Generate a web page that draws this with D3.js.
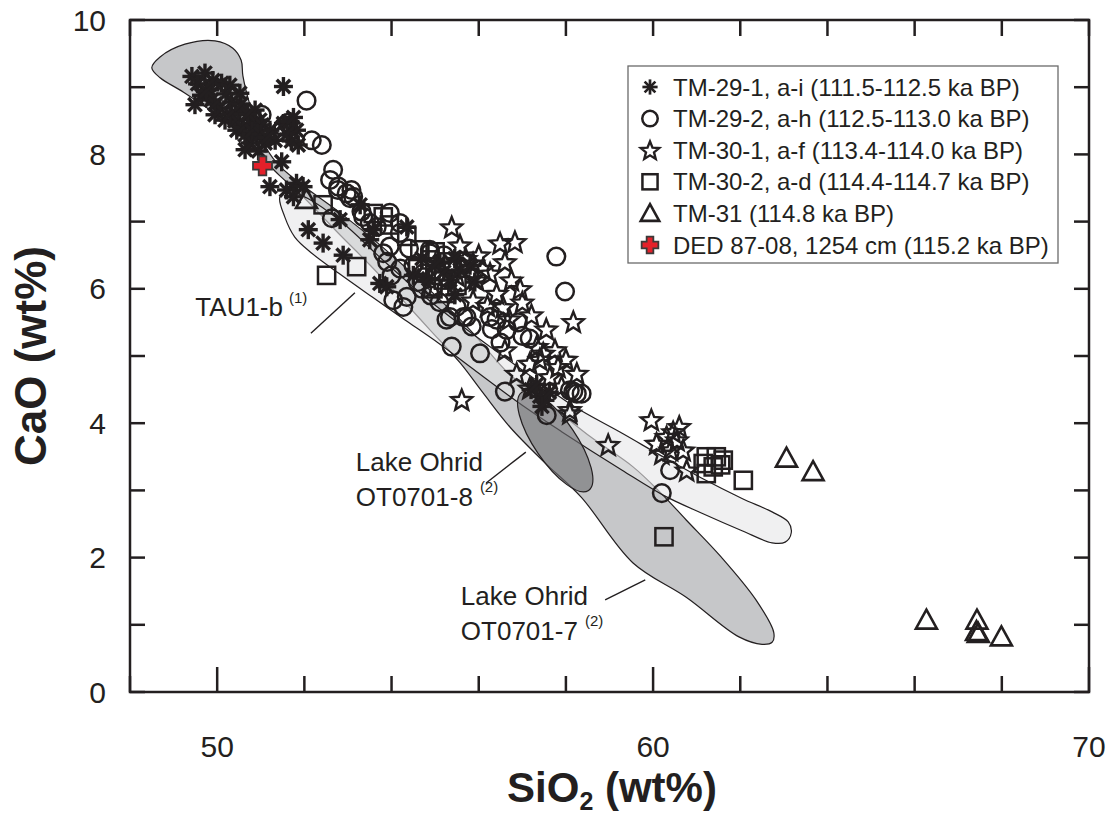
<!DOCTYPE html>
<html>
<head>
<meta charset="utf-8">
<script src="https://cdn.jsdelivr.net/npm/d3@7"></script>
<style>
  body { margin: 0; background: #fff; }
  svg { display: block; }
  text { font-family: "Liberation Sans", Arial, Helvetica, sans-serif; fill: #231f20; }
</style>
</head>
<body>
<svg id="chart" width="1113" height="820"></svg>
<script>
// ---- Sample data: [SiO2 wt%, CaO wt%] ----
const tm29_1 = [ // asterisks
  [49.42,9.16],[49.72,9.21],[49.64,8.88],[49.87,8.81],[50.10,9.06],[50.06,8.69],[50.33,8.78],
  [50.52,8.91],[50.52,8.64],[50.45,8.36],[50.75,8.46],[50.91,8.26],[51.10,8.17],[50.75,8.17],
  [51.52,9.01],[51.52,8.46],[51.67,8.49],[51.82,8.36],[51.86,8.14],[51.48,7.89],[51.21,7.52],
  [51.59,7.47],[51.82,7.57],[51.97,7.52],[51.75,7.37],[52.09,6.88],[52.43,6.68],[52.89,6.50],
  [53.73,6.08],[53.89,6.03],[53.28,7.25],[54.35,6.92],[53.58,6.88],[53.50,6.73],[52.82,7.03],
  [50.18,8.51],[50.64,8.07],[50.98,8.51],[51.21,8.36],[49.83,8.96],[49.49,8.74],[49.95,8.59],
  [50.29,9.03],[50.87,8.66],[51.03,8.44],[51.33,8.21],[50.64,8.29],
  [49.55,9.05],[49.75,8.95],[49.95,8.75],[50.20,8.90],[50.40,8.50],[50.60,8.40],[50.80,8.35],
  [51.00,8.30],[50.30,8.60],[50.55,8.75],[49.90,9.10],[50.70,8.60],[51.15,8.25],[50.95,8.05],
  [51.60,8.30],[51.75,8.55],[51.70,8.20],
  [55.57,6.28],[55.80,6.35],[55.34,6.13],[55.11,6.40],[55.91,6.10],[55.45,5.91],
  [54.70,6.45],[55.00,6.35],[54.85,6.15],[55.20,6.25],[54.50,6.20],[55.45,6.45],
  [57.20,4.50],[57.40,4.40],[57.52,4.34],[57.33,4.58],[57.62,4.46],[57.45,4.25]
];
const tm29_2 = [ // circles
  [51.02,8.59],[52.05,8.80],[51.52,8.41],[51.62,8.47],[52.17,8.21],[52.40,8.14],[52.66,7.77],
  [52.59,7.62],[52.77,7.47],[52.97,7.42],[53.12,7.37],[52.63,7.05],[53.35,7.07],[53.50,6.98],
  [53.96,7.13],[54.19,6.83],[52.78,7.52],[53.08,7.47],[53.05,7.35],[53.31,7.15],[53.66,6.92],
  [54.19,6.98],[53.81,6.53],[53.96,6.63],[54.04,5.83],[54.27,5.73],[54.35,5.88],[54.88,6.58],
  [54.73,6.23],[54.95,6.03],[55.49,5.73],[55.72,5.58],[55.26,5.54],[57.78,6.48],[57.98,5.96],
  [55.34,5.58],[55.65,5.58],[55.84,5.44],[56.26,5.58],[56.41,5.54],[56.64,5.39],[55.38,5.14],
  [56.03,5.04],[56.60,4.47],[57.17,5.26],[57.56,4.12],[58.09,4.49],[58.25,4.44],[58.36,4.44],
  [54.88,6.53],[60.39,3.30],[60.20,2.96],[58.17,4.47],
  [54.50,6.35],[54.60,6.10],[55.00,6.20],[55.20,6.50],[54.40,6.60],[55.40,6.30],[55.60,6.10],
  [54.90,5.90],[55.10,5.80],[54.20,6.30],[53.90,6.40],[54.00,6.20],[56.50,5.20],[56.90,5.50],
  [57.00,5.30],[56.30,5.40],[55.30,6.15],[54.70,6.00]
];
const tm30_1 = [ // stars
  [55.38,6.92],[56.49,6.68],[56.83,6.70],[55.57,6.65],[55.87,6.38],[56.26,6.23],[56.75,6.13],
  [56.41,5.93],[55.95,6.13],[55.87,5.83],[56.56,5.73],[57.21,5.61],[58.17,5.51],[56.60,5.09],
  [57.33,5.14],[57.17,4.89],[57.48,5.04],[57.75,5.09],[56.87,4.74],[57.82,4.84],[58.25,4.74],
  [57.63,4.69],[58.09,4.20],[55.61,4.35],[57.17,4.52],[58.09,4.15],[58.97,3.68],[59.96,4.05],
  [60.08,3.70],[60.46,3.87],[60.69,3.60],[60.77,3.30],[60.31,3.80],
  [55.70,6.45],[55.50,6.20],[56.00,6.50],[56.10,6.30],[56.60,6.40],[56.95,6.00],[57.00,5.80],
  [56.20,5.75],[57.40,4.95],[57.90,4.55],[58.00,4.95],[60.55,3.75],[60.40,3.60],[60.60,3.95],
  [60.20,3.55],[56.70,5.55],[57.55,5.40]
];
const tm30_2 = [ // squares
  [52.51,6.20],[53.20,6.33],[52.43,7.25],[53.58,7.12],[53.81,7.07],[54.65,6.58],[55.26,5.93],
  [54.35,6.78],[54.88,6.43],[55.19,6.13],[61.22,3.50],[61.45,3.50],[61.61,3.45],[61.22,3.25],
  [61.15,3.40],[61.38,3.35],[61.55,3.38],[62.07,3.15],[60.25,2.31],[55.00,6.55],[54.95,6.00],
  [53.95,6.95],[54.60,6.30],[55.30,6.40],[55.50,6.05]
];
const tm31 = [ // triangles
  [63.06,3.48],[63.67,3.28],[66.27,1.07],[67.43,1.07],[67.42,0.90],[67.46,0.87],[67.99,0.82],
  [52.05,7.33]
];
const ded87 = [[51.04,7.83]]; // red cross

// Reference fields (outline vertices in SiO2 / CaO)
const fieldOT07 = [
  [48.50,9.29],[48.69,9.45],[49.26,9.64],[49.95,9.69],[50.36,9.58],[50.55,9.40],[50.59,9.17],
  [50.75,8.74],[51.03,8.21],[51.37,7.87],[51.90,7.57],[52.82,7.13],[53.74,6.65],[54.88,5.98],
  [55.80,5.39],[56.72,4.72],[57.70,4.24],[58.58,3.79],[59.54,3.35],[60.18,2.96],[60.76,2.56],
  [61.56,2.01],[62.36,1.37],[62.77,0.88],[62.73,0.74],[62.50,0.71],[61.97,0.82],[60.76,1.41],
  [59.54,1.92],[58.35,2.90],[57.52,3.41],[56.72,3.94],[56.10,4.45],[55.57,4.90],[54.88,5.39],
  [54.19,5.88],[53.51,6.35],[52.82,6.80],[51.97,7.37],[51.44,7.68],[50.98,7.98],[50.23,8.47],
  [49.77,8.69],[49.22,8.93],[48.69,9.14]
];
const fieldTAU1b = [
  [51.44,7.37],[51.55,7.07],[51.78,6.77],[52.17,6.53],[52.79,6.23],[53.55,5.88],[54.30,5.54],
  [55.08,5.19],[55.84,4.82],[56.99,4.27],[57.91,3.87],[59.29,3.30],[60.23,2.93],[61.12,2.66],
  [62.04,2.40],[62.73,2.22],[63.03,2.23],[63.17,2.37],[63.10,2.53],[62.73,2.68],[62.04,2.88],
  [61.12,3.18],[60.20,3.51],[59.29,3.85],[58.21,4.24],[57.45,4.58],[56.53,5.01],[55.61,5.45],
  [54.69,5.92],[53.78,6.44],[52.86,6.99],[52.06,7.35],[51.67,7.44]
];
const fieldOT08 = { top: [56.99, 4.46], bottom: [58.52, 3.00], halfWidth: 21 };

// Axis ticks and labels
const yTickLabels = [0, 2, 4, 6, 8, 10];
const yTicks = d3.range(0, 11, 1);
const xTickLabels = [50, 60, 70];
const xTicks = d3.range(48, 71, 2);

// Legend entries
const legendItems = [
  { shape: "asterisk", label: "TM-29-1, a-i (111.5-112.5 ka BP)" },
  { shape: "circle",   label: "TM-29-2, a-h (112.5-113.0 ka BP)" },
  { shape: "star",     label: "TM-30-1, a-f (113.4-114.0 ka BP)" },
  { shape: "square",   label: "TM-30-2, a-d (114.4-114.7 ka BP)" },
  { shape: "triangle", label: "TM-31 (114.8 ka BP)" },
  { shape: "cross",    label: "DED 87-08, 1254 cm (115.2 ka BP)" }
];

const INK = "#231f20";
const svg = d3.select("#chart");
const x = d3.scaleLinear().domain([48, 70]).range([130, 1089]);
const y = d3.scaleLinear().domain([0, 10]).range([692, 20]);

// ---- fields ----
const fieldLine = d3.line().x(d => x(d[0])).y(d => y(d[1])).curve(d3.curveCatmullRomClosed.alpha(0.5));
const gFields = svg.append("g");
gFields.append("path").attr("d", fieldLine(fieldOT07))
  .attr("fill", "#c6c7c9").attr("stroke", INK).attr("stroke-width", 1.2);
gFields.append("path").attr("d", fieldLine(fieldTAU1b))
  .attr("fill", "#e6e6e7").attr("fill-opacity", 0.6).attr("stroke", INK).attr("stroke-width", 1.2);

// OT0701-8 ellipse
(function () {
  const x1 = x(fieldOT08.top[0]), y1 = y(fieldOT08.top[1]);
  const x2 = x(fieldOT08.bottom[0]), y2 = y(fieldOT08.bottom[1]);
  const cx = (x1 + x2) / 2, cy = (y1 + y2) / 2;
  const rx = Math.hypot(x2 - x1, y2 - y1) / 2;
  const ang = Math.atan2(y2 - y1, x2 - x1) * 180 / Math.PI;
  gFields.append("ellipse")
    .attr("cx", 0).attr("cy", 0).attr("rx", rx).attr("ry", fieldOT08.halfWidth)
    .attr("transform", `translate(${cx},${cy}) rotate(${ang})`)
    .attr("fill", "#6e6e71").attr("fill-opacity", 0.6)
    .attr("stroke", INK).attr("stroke-width", 1.2);
})();

// ---- annotation labels with leader lines ----
const gAnn = svg.append("g");
function leader(p, q) {
  gAnn.append("line").attr("x1", x(p[0])).attr("y1", y(p[1])).attr("x2", x(q[0])).attr("y2", y(q[1]))
    .attr("stroke", INK).attr("stroke-width", 1.4);
}
leader([52.15, 5.34], [53.16, 5.94]);
gAnn.append("text").attr("font-size", 26).attr("x", x(51.51)).attr("y", y(5.60)).attr("text-anchor", "end").text("TAU1-b");
gAnn.append("text").attr("font-size", 15).attr("x", x(51.51) + 6).attr("y", y(5.60) - 13).text("(1)");

leader([56.17, 3.11], [57.08, 3.57]);
gAnn.append("text").attr("font-size", 26).attr("x", x(53.18)).attr("y", y(3.29)).text("Lake Ohrid");
gAnn.append("text").attr("font-size", 26).attr("x", x(53.18)).attr("y", y(3.29) + 35)
  .text("OT0701-8").append("tspan").attr("dx", 7).attr("dy", -14).attr("font-size", 15).text("(2)");

leader([58.90, 1.37], [59.82, 1.67]);
gAnn.append("text").attr("font-size", 26).attr("x", x(55.59)).attr("y", y(1.29)).text("Lake Ohrid");
gAnn.append("text").attr("font-size", 26).attr("x", x(55.59)).attr("y", y(1.29) + 35)
  .text("OT0701-7").append("tspan").attr("dx", 7).attr("dy", -14).attr("font-size", 15).text("(2)");

// ---- marker shapes ----
function drawMarker(g, shape, s) {
  s = s || 1;
  if (shape === "asterisk") {
    const r = 9.5 * s;
    [0, 45, 90, 135].forEach(a => {
      const c = Math.cos(a * Math.PI / 180) * r, sn = Math.sin(a * Math.PI / 180) * r;
      g.append("line").attr("x1", -c).attr("y1", -sn).attr("x2", c).attr("y2", sn)
        .attr("stroke", INK).attr("stroke-width", 3.4 * s).attr("stroke-linecap", "butt");
    });
  } else if (shape === "circle") {
    g.append("circle").attr("r", 8.8 * s).attr("fill", "none").attr("stroke", INK).attr("stroke-width", 2.5);
  } else if (shape === "star") {
    const pts = d3.range(10).map(i => {
      const rr = (i % 2 === 0 ? 11 : 4.8) * s, a = -Math.PI / 2 + i * Math.PI / 5;
      return [Math.cos(a) * rr, Math.sin(a) * rr + 1 * s];
    });
    g.append("path").attr("d", "M" + pts.join("L") + "Z").attr("fill", "none")
      .attr("stroke", INK).attr("stroke-width", 2.4).attr("stroke-linejoin", "miter");
  } else if (shape === "square") {
    const h = 8.6 * s;
    g.append("rect").attr("x", -h).attr("y", -h).attr("width", 2 * h).attr("height", 2 * h)
      .attr("fill", "none").attr("stroke", INK).attr("stroke-width", 2.5);
  } else if (shape === "triangle") {
    const w = 10.5 * s, up = 10.5 * s, dn = 8.5 * s;
    g.append("path").attr("d", `M0,${-up}L${w},${dn}L${-w},${dn}Z`).attr("fill", "none")
      .attr("stroke", INK).attr("stroke-width", 2.6).attr("stroke-linejoin", "miter");
  } else if (shape === "cross") {
    const a = 9.5 * s, b = 3.8 * s;
    g.append("path").attr("d",
      `M${-b},${-a}H${b}V${-b}H${a}V${b}H${b}V${a}H${-b}V${b}H${-a}V${-b}H${-b}Z`)
      .attr("fill", "#e3202a").attr("stroke", "#3a3a3a").attr("stroke-width", 1.8);
  }
}
function drawSeries(data, shape) {
  const g = svg.append("g");
  data.forEach(d => {
    drawMarker(g.append("g").attr("transform", `translate(${x(d[0])},${y(d[1])})`), shape);
  });
}
drawSeries(tm30_2, "square");
drawSeries(tm30_1, "star");
drawSeries(tm29_2, "circle");
drawSeries(tm31, "triangle");
drawSeries(tm29_1, "asterisk");
drawSeries(ded87, "cross");

// ---- frame and ticks ----
const gAx = svg.append("g").attr("stroke", INK).attr("stroke-width", 2.5);
gAx.append("rect").attr("x", x(48)).attr("y", y(10)).attr("width", x(70) - x(48)).attr("height", y(0) - y(10)).attr("fill", "none");
yTicks.forEach(v => {
  gAx.append("line").attr("x1", x(48)).attr("x2", x(48) + 15).attr("y1", y(v)).attr("y2", y(v));
  gAx.append("line").attr("x1", x(70)).attr("x2", x(70) - 15).attr("y1", y(v)).attr("y2", y(v));
});
xTicks.forEach(v => {
  const major = xTickLabels.includes(v);
  gAx.append("line").attr("x1", x(v)).attr("x2", x(v)).attr("y1", y(0)).attr("y2", y(0) - (major ? 25 : 16));
  gAx.append("line").attr("x1", x(v)).attr("x2", x(v)).attr("y1", y(10)).attr("y2", y(10) + 16);
});

svg.append("g").selectAll("text").data(yTickLabels).join("text")
  .attr("x", x(48) - 24).attr("y", d => y(d) + 10.5).attr("text-anchor", "end")
  .attr("font-size", 30).text(d => d);
svg.append("g").selectAll("text").data(xTickLabels).join("text")
  .attr("x", d => x(d)).attr("y", y(0) + 65).attr("text-anchor", "middle")
  .attr("font-size", 30).text(d => d);

// axis titles
svg.append("text").attr("transform", `translate(46,${y(5)}) rotate(-90)`)
  .attr("text-anchor", "middle").attr("font-size", 44).attr("font-weight", "bold").text("CaO (wt%)");
const xt = svg.append("text").attr("x", 612).attr("y", 802).attr("text-anchor", "middle")
  .attr("font-size", 42).attr("font-weight", "bold");
xt.append("tspan").text("SiO");
xt.append("tspan").attr("font-size", 25).attr("dy", 8).text("2");
xt.append("tspan").attr("dy", -8).text(" (wt%)");

// ---- legend ----
const lg = svg.append("g");
lg.append("rect").attr("x", 628).attr("y", 66).attr("width", 430).attr("height", 197)
  .attr("fill", "#fff").attr("stroke", "#6a6a6a").attr("stroke-width", 1.3);
legendItems.forEach((it, i) => {
  const cy = 87 + i * 31.6;
  drawMarker(lg.append("g").attr("transform", `translate(650,${cy})`), it.shape, it.shape === "asterisk" ? 0.8 : 0.88);
  lg.append("text").attr("x", 673).attr("y", cy + 8.5).attr("font-size", 24).text(it.label);
});
</script>
</body>
</html>
